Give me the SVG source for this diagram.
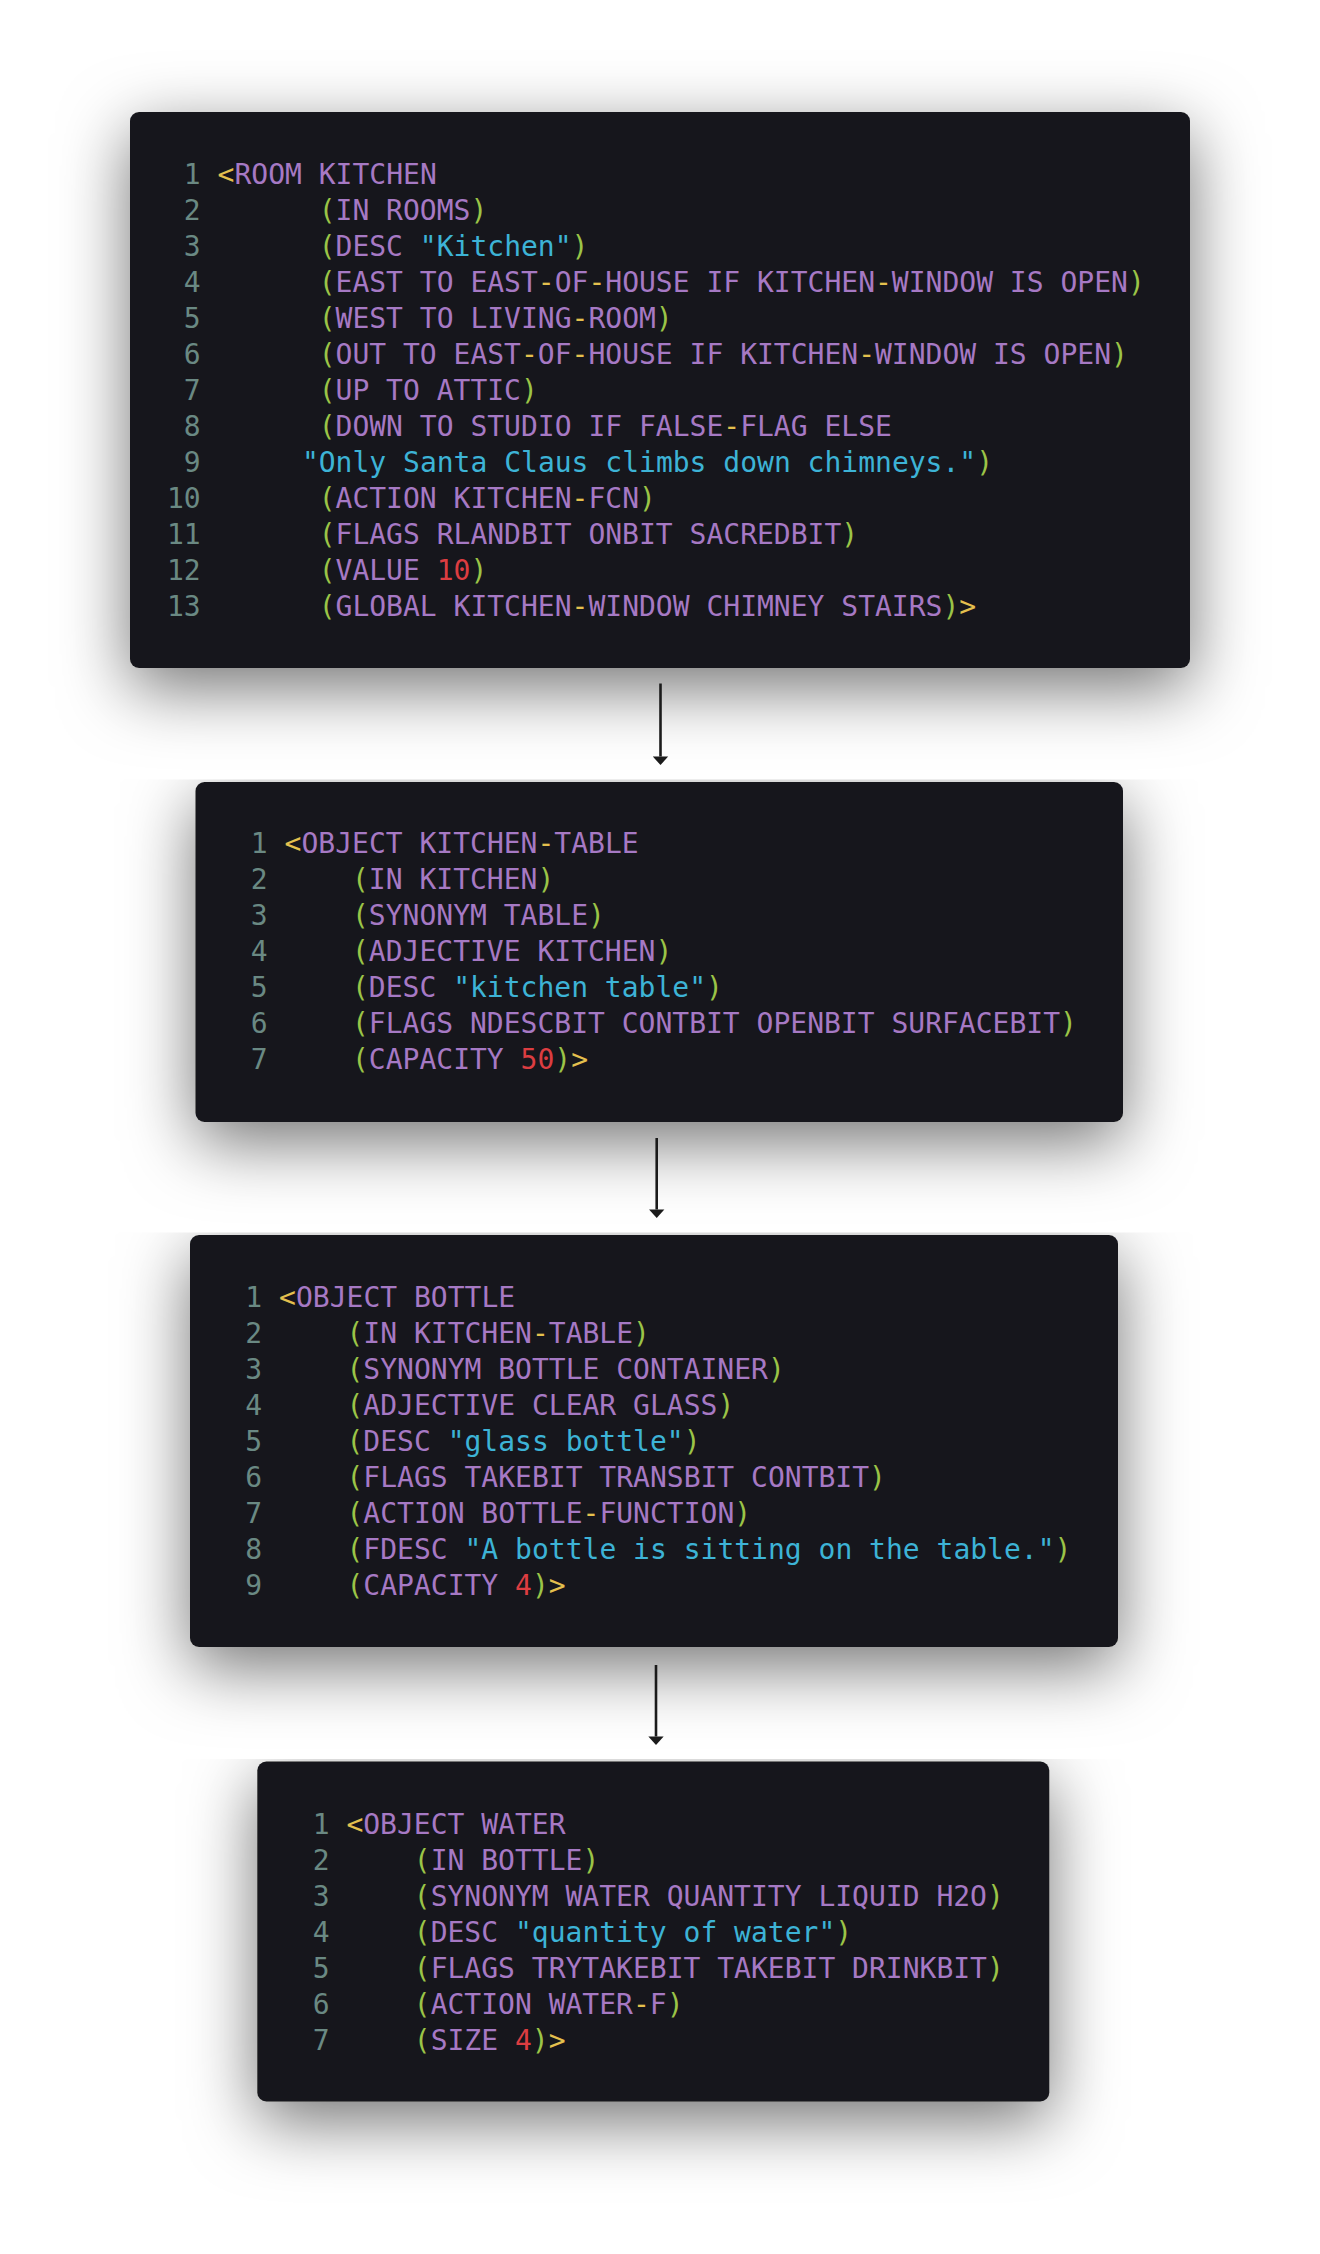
<svg xmlns="http://www.w3.org/2000/svg" width="1320" height="2254" viewBox="0 0 1320 2254">
<style>
text{font-family:"DejaVu Sans Mono","Liberation Mono",monospace;font-size:28px}
.ln{fill:#6a8983}
.c{fill:#a679c4}
.p{fill:#9bc447}
.y{fill:#e4c04e}
.s{fill:#3db3d6}
.n{fill:#dc3d41}
.win{fill:#18191c;filter:url(#sh)}
.edge{fill:none;stroke:#1b1b1b;stroke-width:2.6;marker-end:url(#ah)}
</style>
<defs>
<filter id="sh" x="-15%" y="-45%" width="130%" height="200%">
<feDropShadow dx="0" dy="20" stdDeviation="34" flood-color="#000" flood-opacity="0.55"/>
</filter>
<marker id="ah" markerUnits="userSpaceOnUse" markerWidth="10" markerHeight="16" viewBox="0 0 8 14" refX="0" refY="7" orient="auto">
<path d="M0,0.3 L7.5,7 L0,13.7 z" fill="#1b1b1b"/>
</marker>
<clipPath id="c2" clipPathUnits="userSpaceOnUse"><rect x="80" y="779.5" width="1160" height="480"/></clipPath>
<clipPath id="c3" clipPathUnits="userSpaceOnUse"><rect x="70" y="1232.5" width="1170" height="540"/></clipPath>
<clipPath id="c4" clipPathUnits="userSpaceOnUse"><rect x="140" y="1759" width="1030" height="495"/></clipPath>
</defs>
<rect width="1320" height="2254" fill="#fff"/>

<g id="node-kitchen">
<rect class="win" x="130" y="112" width="1060" height="556" rx="9"/>
<g class="ln">
<text x="200.7" y="184.4" text-anchor="end">1</text>
<text x="200.7" y="220.4" text-anchor="end">2</text>
<text x="200.7" y="256.4" text-anchor="end">3</text>
<text x="200.7" y="292.4" text-anchor="end">4</text>
<text x="200.7" y="328.4" text-anchor="end">5</text>
<text x="200.7" y="364.4" text-anchor="end">6</text>
<text x="200.7" y="400.4" text-anchor="end">7</text>
<text x="200.7" y="436.4" text-anchor="end">8</text>
<text x="200.7" y="472.4" text-anchor="end">9</text>
<text x="200.7" y="508.4" text-anchor="end">10</text>
<text x="200.7" y="544.4" text-anchor="end">11</text>
<text x="200.7" y="580.4" text-anchor="end">12</text>
<text x="200.7" y="616.4" text-anchor="end">13</text>
</g>
<text class="c" x="217.6" y="184.4"><tspan class="y">&lt;</tspan>ROOM KITCHEN</text>
<text class="c" x="318.7" y="220.4"><tspan class="p">(</tspan>IN ROOMS<tspan class="p">)</tspan></text>
<text class="c" x="318.7" y="256.4"><tspan class="p">(</tspan>DESC <tspan class="s">"Kitchen"</tspan><tspan class="p">)</tspan></text>
<text class="c" x="318.7" y="292.4"><tspan class="p">(</tspan>EAST TO EAST<tspan class="y">-</tspan>OF<tspan class="y">-</tspan>HOUSE IF KITCHEN<tspan class="y">-</tspan>WINDOW IS OPEN<tspan class="p">)</tspan></text>
<text class="c" x="318.7" y="328.4"><tspan class="p">(</tspan>WEST TO LIVING<tspan class="y">-</tspan>ROOM<tspan class="p">)</tspan></text>
<text class="c" x="318.7" y="364.4"><tspan class="p">(</tspan>OUT TO EAST<tspan class="y">-</tspan>OF<tspan class="y">-</tspan>HOUSE IF KITCHEN<tspan class="y">-</tspan>WINDOW IS OPEN<tspan class="p">)</tspan></text>
<text class="c" x="318.7" y="400.4"><tspan class="p">(</tspan>UP TO ATTIC<tspan class="p">)</tspan></text>
<text class="c" x="318.7" y="436.4"><tspan class="p">(</tspan>DOWN TO STUDIO IF FALSE<tspan class="y">-</tspan>FLAG ELSE</text>
<text class="c" x="301.9" y="472.4"><tspan class="s">"Only Santa Claus climbs down chimneys."</tspan><tspan class="p">)</tspan></text>
<text class="c" x="318.7" y="508.4"><tspan class="p">(</tspan>ACTION KITCHEN<tspan class="y">-</tspan>FCN<tspan class="p">)</tspan></text>
<text class="c" x="318.7" y="544.4"><tspan class="p">(</tspan>FLAGS RLANDBIT ONBIT SACREDBIT<tspan class="p">)</tspan></text>
<text class="c" x="318.7" y="580.4"><tspan class="p">(</tspan>VALUE <tspan class="n">10</tspan><tspan class="p">)</tspan></text>
<text class="c" x="318.7" y="616.4"><tspan class="p">(</tspan>GLOBAL KITCHEN<tspan class="y">-</tspan>WINDOW CHIMNEY STAIRS<tspan class="p">)</tspan><tspan class="y">&gt;</tspan></text>
</g>

<g id="node-kitchen-table">
<g clip-path="url(#c2)">
<rect x="80" y="779.5" width="1160" height="480" fill="#fff"/>
<rect class="win" x="195.5" y="782" width="927.5" height="340" rx="9"/>
</g>
<g class="ln">
<text x="267.7" y="853.3" text-anchor="end">1</text>
<text x="267.7" y="889.3" text-anchor="end">2</text>
<text x="267.7" y="925.3" text-anchor="end">3</text>
<text x="267.7" y="961.3" text-anchor="end">4</text>
<text x="267.7" y="997.3" text-anchor="end">5</text>
<text x="267.7" y="1033.3" text-anchor="end">6</text>
<text x="267.7" y="1069.3" text-anchor="end">7</text>
</g>
<text class="c" x="284.6" y="853.3"><tspan class="y">&lt;</tspan>OBJECT KITCHEN<tspan class="y">-</tspan>TABLE</text>
<text class="c" x="352" y="889.3"><tspan class="p">(</tspan>IN KITCHEN<tspan class="p">)</tspan></text>
<text class="c" x="352" y="925.3"><tspan class="p">(</tspan>SYNONYM TABLE<tspan class="p">)</tspan></text>
<text class="c" x="352" y="961.3"><tspan class="p">(</tspan>ADJECTIVE KITCHEN<tspan class="p">)</tspan></text>
<text class="c" x="352" y="997.3"><tspan class="p">(</tspan>DESC <tspan class="s">"kitchen table"</tspan><tspan class="p">)</tspan></text>
<text class="c" x="352" y="1033.3"><tspan class="p">(</tspan>FLAGS NDESCBIT CONTBIT OPENBIT SURFACEBIT<tspan class="p">)</tspan></text>
<text class="c" x="352" y="1069.3"><tspan class="p">(</tspan>CAPACITY <tspan class="n">50</tspan><tspan class="p">)</tspan><tspan class="y">&gt;</tspan></text>
</g>

<g id="node-bottle">
<g clip-path="url(#c3)">
<rect x="70" y="1232.5" width="1170" height="540" fill="#fff"/>
<rect class="win" x="190" y="1235" width="928" height="412" rx="9"/>
</g>
<g class="ln">
<text x="262.2" y="1307.3" text-anchor="end">1</text>
<text x="262.2" y="1343.3" text-anchor="end">2</text>
<text x="262.2" y="1379.3" text-anchor="end">3</text>
<text x="262.2" y="1415.3" text-anchor="end">4</text>
<text x="262.2" y="1451.3" text-anchor="end">5</text>
<text x="262.2" y="1487.3" text-anchor="end">6</text>
<text x="262.2" y="1523.3" text-anchor="end">7</text>
<text x="262.2" y="1559.3" text-anchor="end">8</text>
<text x="262.2" y="1595.3" text-anchor="end">9</text>
</g>
<text class="c" x="279.1" y="1307.3"><tspan class="y">&lt;</tspan>OBJECT BOTTLE</text>
<text class="c" x="346.5" y="1343.3"><tspan class="p">(</tspan>IN KITCHEN<tspan class="y">-</tspan>TABLE<tspan class="p">)</tspan></text>
<text class="c" x="346.5" y="1379.3"><tspan class="p">(</tspan>SYNONYM BOTTLE CONTAINER<tspan class="p">)</tspan></text>
<text class="c" x="346.5" y="1415.3"><tspan class="p">(</tspan>ADJECTIVE CLEAR GLASS<tspan class="p">)</tspan></text>
<text class="c" x="346.5" y="1451.3"><tspan class="p">(</tspan>DESC <tspan class="s">"glass bottle"</tspan><tspan class="p">)</tspan></text>
<text class="c" x="346.5" y="1487.3"><tspan class="p">(</tspan>FLAGS TAKEBIT TRANSBIT CONTBIT<tspan class="p">)</tspan></text>
<text class="c" x="346.5" y="1523.3"><tspan class="p">(</tspan>ACTION BOTTLE<tspan class="y">-</tspan>FUNCTION<tspan class="p">)</tspan></text>
<text class="c" x="346.5" y="1559.3"><tspan class="p">(</tspan>FDESC <tspan class="s">"A bottle is sitting on the table."</tspan><tspan class="p">)</tspan></text>
<text class="c" x="346.5" y="1595.3"><tspan class="p">(</tspan>CAPACITY <tspan class="n">4</tspan><tspan class="p">)</tspan><tspan class="y">&gt;</tspan></text>
</g>

<g id="node-water">
<g clip-path="url(#c4)">
<rect x="140" y="1759" width="1030" height="495" fill="#fff"/>
<rect class="win" x="257.3" y="1761.5" width="792" height="340" rx="9"/>
</g>
<g class="ln">
<text x="329.5" y="1833.5" text-anchor="end">1</text>
<text x="329.5" y="1869.5" text-anchor="end">2</text>
<text x="329.5" y="1905.5" text-anchor="end">3</text>
<text x="329.5" y="1941.5" text-anchor="end">4</text>
<text x="329.5" y="1977.5" text-anchor="end">5</text>
<text x="329.5" y="2013.5" text-anchor="end">6</text>
<text x="329.5" y="2049.5" text-anchor="end">7</text>
</g>
<text class="c" x="346.4" y="1833.5"><tspan class="y">&lt;</tspan>OBJECT WATER</text>
<text class="c" x="413.8" y="1869.5"><tspan class="p">(</tspan>IN BOTTLE<tspan class="p">)</tspan></text>
<text class="c" x="413.8" y="1905.5"><tspan class="p">(</tspan>SYNONYM WATER QUANTITY LIQUID H2O<tspan class="p">)</tspan></text>
<text class="c" x="413.8" y="1941.5"><tspan class="p">(</tspan>DESC <tspan class="s">"quantity of water"</tspan><tspan class="p">)</tspan></text>
<text class="c" x="413.8" y="1977.5"><tspan class="p">(</tspan>FLAGS TRYTAKEBIT TAKEBIT DRINKBIT<tspan class="p">)</tspan></text>
<text class="c" x="413.8" y="2013.5"><tspan class="p">(</tspan>ACTION WATER<tspan class="y">-</tspan>F<tspan class="p">)</tspan></text>
<text class="c" x="413.8" y="2049.5"><tspan class="p">(</tspan>SIZE <tspan class="n">4</tspan><tspan class="p">)</tspan><tspan class="y">&gt;</tspan></text>
</g>

<g id="connectors">
<line class="edge" x1="660.5" y1="683.5" x2="660.5" y2="756.5"/>
<line class="edge" x1="656.7" y1="1138" x2="656.7" y2="1209.5"/>
<line class="edge" x1="656" y1="1665" x2="656" y2="1736.5"/>
</g>
</svg>
